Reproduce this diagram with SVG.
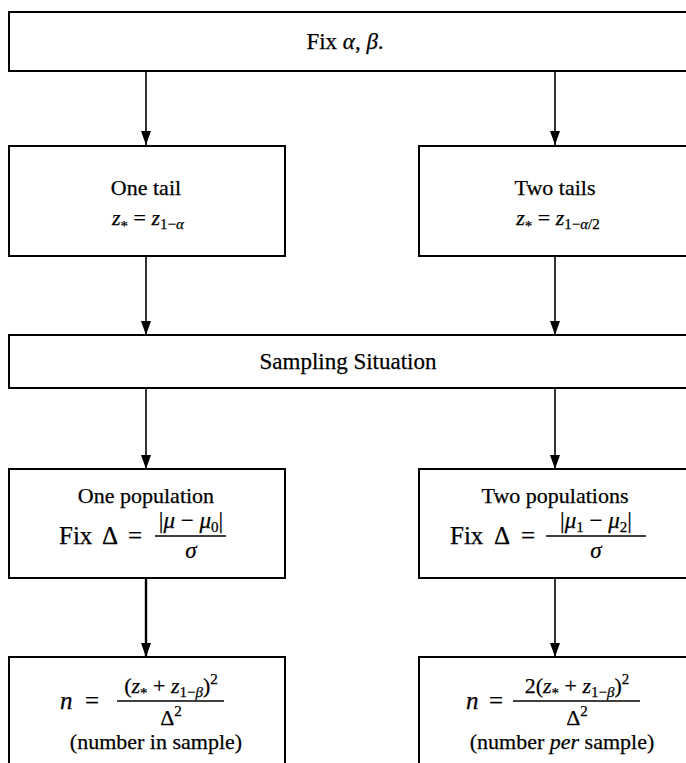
<svg xmlns="http://www.w3.org/2000/svg" width="686" height="763" viewBox="0 0 686 763">
<defs>
<style>
.box{fill:#fff;stroke:#000;stroke-width:2}
.t{font-family:"Liberation Serif","Times New Roman",serif;font-size:22px;fill:#000;stroke:#000;stroke-width:0.25;text-anchor:middle}
.m{font-family:"Liberation Serif","Times New Roman",serif;font-size:22px;fill:#000;stroke:#000;stroke-width:0.25}
.big{font-size:25px}
.i{font-style:italic}
.s{font-size:15px}
.c{stroke:#000;stroke-width:1.6;fill:none}
.thick{stroke-width:2.4}
.bar{stroke:#000;stroke-width:1.3}
</style>
<marker id="ah" viewBox="0 0 14 10" refX="14" refY="5" markerWidth="14" markerHeight="10" markerUnits="userSpaceOnUse" orient="auto">
<path d="M0,0 L14,5 L0,10 Z" fill="#000"/>
</marker>
</defs>
<rect width="686" height="763" fill="#fff"/>

<g id="connectors">
<line class="c" x1="146" y1="71" x2="146" y2="145" marker-end="url(#ah)"/>
<line class="c" x1="555" y1="71" x2="555" y2="145" marker-end="url(#ah)"/>
<line class="c" x1="146" y1="256" x2="146" y2="335" marker-end="url(#ah)"/>
<line class="c" x1="555" y1="256" x2="555" y2="335" marker-end="url(#ah)"/>
<line class="c" x1="146" y1="388" x2="146" y2="469" marker-end="url(#ah)"/>
<line class="c" x1="555" y1="388" x2="555" y2="469" marker-end="url(#ah)"/>
<line class="c thick" x1="146" y1="578" x2="146" y2="657" marker-end="url(#ah)"/>
<line class="c" x1="555" y1="578" x2="555" y2="657" marker-end="url(#ah)"/>
</g>

<g id="fix">
<rect class="box" x="9" y="12" width="690" height="59"/>
<text class="t" x="345" y="49" style="font-size:23px">Fix <tspan class="i">α</tspan>, <tspan class="i">β</tspan>.</text>
</g>

<g id="one-tail">
<rect class="box" x="9" y="146" width="276" height="110"/>
<text class="t" x="146" y="195">One tail</text>
<text class="m" x="148" y="225" text-anchor="middle"><tspan class="i">z</tspan><tspan class="s" dy="6">*</tspan><tspan dy="-6"> = </tspan><tspan class="i">z</tspan><tspan class="s" dy="4">1−</tspan><tspan class="s i">α</tspan></text>
</g>

<g id="two-tails">
<rect class="box" x="419" y="146" width="280" height="110"/>
<text class="t" x="555" y="195">Two tails</text>
<text class="m" x="558" y="225" text-anchor="middle"><tspan class="i">z</tspan><tspan class="s" dy="6">*</tspan><tspan dy="-6"> = </tspan><tspan class="i">z</tspan><tspan class="s" dy="4">1−</tspan><tspan class="s i">α</tspan><tspan class="s">/2</tspan></text>
</g>

<g id="sampling">
<rect class="box" x="9" y="335" width="690" height="53"/>
<text class="t" x="348" y="369" style="font-size:23px">Sampling Situation</text>
</g>

<g id="one-pop">
<rect class="box" x="9" y="469" width="276" height="109"/>
<text class="t" x="146" y="503">One population</text>
<text class="m big" x="59" y="544">Fix</text>
<text class="m big" x="102" y="544">Δ</text>
<text class="m big" x="128" y="544">=</text>
<text class="m" x="191" y="528" text-anchor="middle" style="font-size:23px">|<tspan class="i">μ</tspan> − <tspan class="i">μ</tspan><tspan class="s" dy="4">0</tspan><tspan dy="-4">|</tspan></text>
<line class="bar" x1="155" y1="536" x2="226" y2="536"/>
<text class="m i" x="191" y="558" text-anchor="middle" style="font-size:23px">σ</text>
</g>

<g id="two-pop">
<rect class="box" x="419" y="469" width="280" height="109"/>
<text class="t" x="555" y="503">Two populations</text>
<text class="m big" x="450" y="544">Fix</text>
<text class="m big" x="494" y="544">Δ</text>
<text class="m big" x="521" y="544">=</text>
<text class="m" x="596" y="528" text-anchor="middle" style="font-size:23px">|<tspan class="i">μ</tspan><tspan class="s" dy="4">1</tspan><tspan dy="-4"> − </tspan><tspan class="i">μ</tspan><tspan class="s" dy="4">2</tspan><tspan dy="-4">|</tspan></text>
<line class="bar" x1="546" y1="536" x2="646" y2="536"/>
<text class="m i" x="596" y="558" text-anchor="middle" style="font-size:23px">σ</text>
</g>

<g id="n-one">
<rect class="box" x="9" y="657" width="276" height="120"/>
<text class="m i big" x="60" y="709">n</text>
<text class="m big" x="85" y="709">=</text>
<text class="m" x="171" y="693" text-anchor="middle">(<tspan class="i">z</tspan><tspan class="s" dy="5">*</tspan><tspan dy="-5"> + </tspan><tspan class="i">z</tspan><tspan class="s" dy="4">1−</tspan><tspan class="s i">β</tspan><tspan dy="-4">)</tspan><tspan class="s" dy="-9">2</tspan></text>
<line class="bar" x1="117" y1="701" x2="224" y2="701"/>
<text class="m" x="171" y="725" text-anchor="middle">Δ<tspan class="s" dy="-9">2</tspan></text>
<text class="t" x="156" y="749">(number in sample)</text>
</g>

<g id="n-two">
<rect class="box" x="419" y="657" width="280" height="120"/>
<text class="m i big" x="466" y="709">n</text>
<text class="m big" x="489" y="709">=</text>
<text class="m" x="577" y="693" text-anchor="middle">2(<tspan class="i">z</tspan><tspan class="s" dy="5">*</tspan><tspan dy="-5"> + </tspan><tspan class="i">z</tspan><tspan class="s" dy="4">1−</tspan><tspan class="s i">β</tspan><tspan dy="-4">)</tspan><tspan class="s" dy="-9">2</tspan></text>
<line class="bar" x1="513" y1="701" x2="640" y2="701"/>
<text class="m" x="577" y="725" text-anchor="middle">Δ<tspan class="s" dy="-9">2</tspan></text>
<text class="t" x="562" y="749">(number <tspan class="i">per</tspan> sample)</text>
</g>
</svg>
